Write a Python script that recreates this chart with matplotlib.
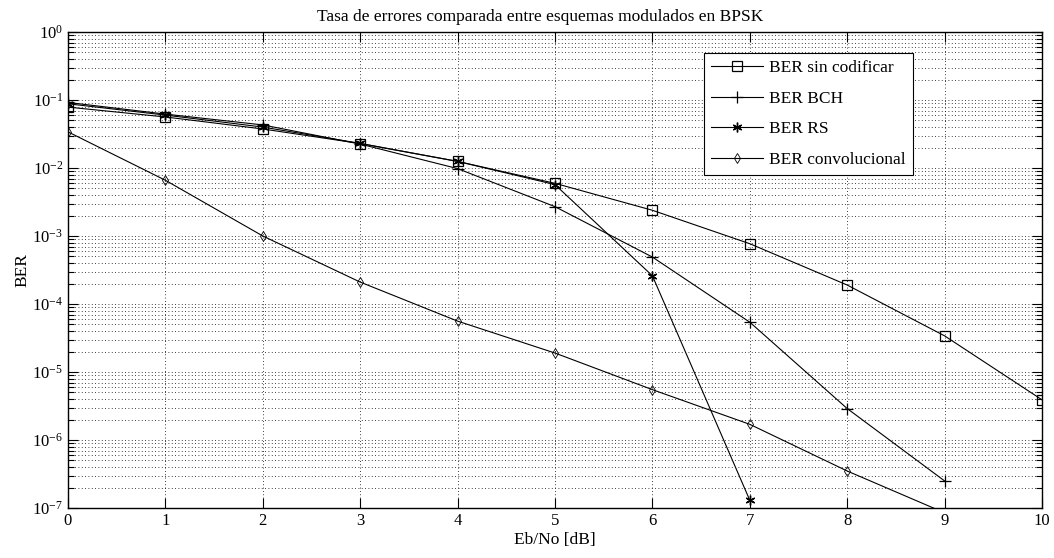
import numpy as np
import matplotlib
matplotlib.use("Agg")
import matplotlib.pyplot as plt
from matplotlib.ticker import LogLocator, FixedLocator

plt.rcParams["font.family"] = ["Liberation Serif", "DejaVu Serif"]
plt.rcParams["mathtext.fontset"] = "stix"

# Eb/No in dB
ebno = [0, 1, 2, 3, 4, 5, 6, 7, 8, 9, 10]

# BER values (nan = no point shown)
ber_uncoded = [0.0786, 0.0563, 0.0375, 0.0229, 0.0125, 0.00595, 0.00239, 7.7e-4, 1.9e-4, 3.4e-5, 3.9e-6]
ber_bch = [0.092, 0.062, 0.043, 0.0225, 0.0098, 0.0027, 4.9e-4, 5.4e-5, 2.9e-6, 2.5e-7, np.nan]
ber_rs = [0.088, 0.060, 0.040, 0.023, 0.0125, 0.0057, 2.6e-4, 1.3e-7, np.nan, np.nan, np.nan]
ber_conv = [0.034, 0.0066, 1.0e-3, 2.1e-4, 5.6e-5, 1.9e-5, 5.5e-6, 1.7e-6, 3.5e-7, 8.5e-8, np.nan]

labels = ["BER sin codificar", "BER BCH", "BER RS", "BER convolucional"]
y_ticks = [1e-7, 1e-6, 1e-5, 1e-4, 1e-3, 1e-2, 1e-1, 1e0]

fig = plt.figure(figsize=(10.54, 5.58), dpi=100)
ax = fig.add_axes([68 / 1054, 1 - 508 / 558, 974 / 1054, 476 / 558])

lw = 0.8
ax.semilogy(ebno, ber_uncoded, color="black", lw=lw, marker="s", ms=7, mfc="none", mew=0.9, label=labels[0])
ax.semilogy(ebno, ber_bch, color="black", lw=lw, marker="+", ms=9, mew=0.9, label=labels[1])
ax.semilogy(ebno, ber_rs, color="black", lw=lw, marker=(6, 2, 0), ms=7, mew=1.0, label=labels[2])
ax.semilogy(ebno, ber_conv, color="black", lw=lw, marker="d", ms=5, mfc="none", mew=0.6, label=labels[3])

ax.set_xlim(0, 10)
ax.set_ylim(1e-7, 1e0)
ax.xaxis.set_major_locator(FixedLocator(ebno))
ax.yaxis.set_major_locator(FixedLocator(y_ticks))
ax.yaxis.set_minor_locator(LogLocator(base=10, subs=np.arange(2, 10), numticks=20))

ax.grid(True, which="major", color="black", linestyle=(0, (1, 3)), linewidth=0.6)
ax.grid(True, which="minor", axis="y", color="black", linestyle=(0, (1, 3)), linewidth=0.6)

ax.tick_params(which="both", direction="in", top=True, right=True, labelsize=12, colors="black")
ax.tick_params(which="major", length=7, width=0.8)
ax.tick_params(which="minor", length=4, width=0.8)
for sp in ax.spines.values():
    sp.set_linewidth(1.0)

fs = 12.5
ax.set_title("Tasa de errores comparada entre esquemas modulados en BPSK", fontsize=fs, pad=8, x=0.485)
ax.set_xlabel("Eb/No [dB]", fontsize=fs, labelpad=2)
ax.set_ylabel("BER", fontsize=fs, labelpad=1)

leg = ax.legend(loc="upper right", bbox_to_anchor=(0.876, 0.975), fontsize=fs,
                frameon=True, fancybox=False, edgecolor="black", framealpha=1,
                handlelength=3.0, handletextpad=0.35, labelspacing=0.85, borderpad=0.4,
                borderaxespad=0.5)
leg.get_frame().set_linewidth(0.8)

fig.savefig("out.png", dpi=100)
